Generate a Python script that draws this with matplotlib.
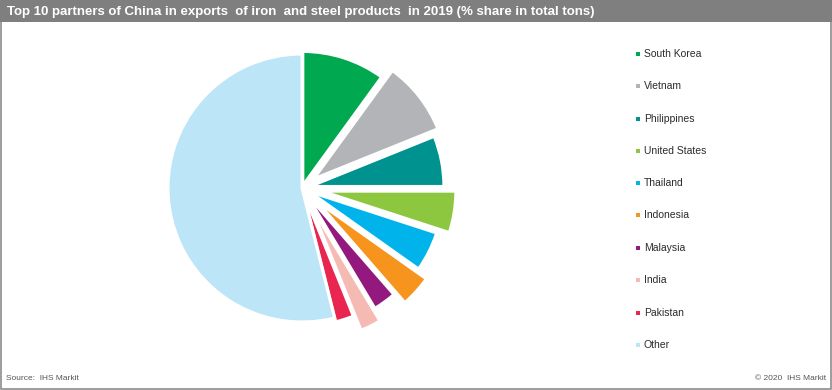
import matplotlib
matplotlib.use("Agg")
import matplotlib.pyplot as plt
from matplotlib.patches import Rectangle

# Shares (% of total tons)
partners = ["South Korea", "Vietnam", "Philippines", "United States", "Thailand",
            "Indonesia", "Malaysia", "India", "Pakistan", "Other"]
shares = [10.0, 8.9, 6.1, 5.0, 4.8, 3.8, 2.8, 2.5, 2.2, 53.9]
colors = ["#00A94F", "#B2B4B7", "#00928F", "#8DC63F", "#00B4EB",
          "#F7941D", "#93197F", "#F6BAB5", "#E8264F", "#BDE5F8"]
explode = [0.02, 0.11, 0.06, 0.15, 0.06, 0.15, 0.05, 0.15, 0.03, 0.0]

title = "Top 10 partners of China in exports  of iron  and steel products  in 2019 (% share in total tons)"
source = "Source:  IHS Markit"
copyright_txt = "\u00a9 2020  IHS Markit"

W, H = 832, 390
fig = plt.figure(figsize=(W / 100, H / 100), dpi=100)
fig.patch.set_facecolor("white")

# pie: centre (302,188) px, radius 134 px
r_px = 134
half = 1.25 * r_px
cx, cy = 302, 188
ax = fig.add_axes([(cx - half) / W, (H - cy - half) / H, 2 * half / W, 2 * half / H])
ax.pie(shares, colors=colors, explode=explode, startangle=90, counterclock=False,
       radius=1.0, wedgeprops=dict(edgecolor="white", linewidth=2.2))
ax.set_xlim(-1.25, 1.25)
ax.set_ylim(-1.25, 1.25)
ax.set_aspect("equal")
ax.axis("off")

# frame and title bar
fig.patches.append(Rectangle((0.5 / W, 1.5 / H), (W - 2) / W, (H - 3) / H,
                             transform=fig.transFigure, facecolor="none",
                             edgecolor="#8C8C8C", linewidth=1.2))
fig.patches.append(Rectangle((0, 1 - 22 / H), 1, 22 / H, transform=fig.transFigure,
                             facecolor="#7F7F7F", edgecolor="none"))
fig.text(7 / W, 1 - 11.5 / H, title, color="white", fontsize=9.5,
         family=["Liberation Sans Narrow", "Liberation Sans"], fontweight="bold",
         ha="left", va="center")

# legend
leg_y = [54, 86, 118.5, 151, 183, 215, 248, 280, 313, 345]
for name, col, y in zip(partners, colors, leg_y):
    fig.patches.append(Rectangle((636 / W, 1 - (y + 2) / H), 4 / W, 4 / H,
                                 transform=fig.transFigure, facecolor=col, edgecolor="none"))
    fig.text(644 / W, 1 - y / H, name, color="#2B2B2B", fontsize=7.5,
             family="Liberation Sans", ha="left", va="center")

# footer
fig.text(6 / W, 1 - 378 / H, source, color="#555555", fontsize=6,
         family=["Liberation Sans Narrow", "Liberation Sans"], ha="left", va="center")
fig.text(826 / W, 1 - 378 / H, copyright_txt, color="#555555", fontsize=6,
         family=["Liberation Sans Narrow", "Liberation Sans"], ha="right", va="center")

fig.savefig("out.png", dpi=100)
